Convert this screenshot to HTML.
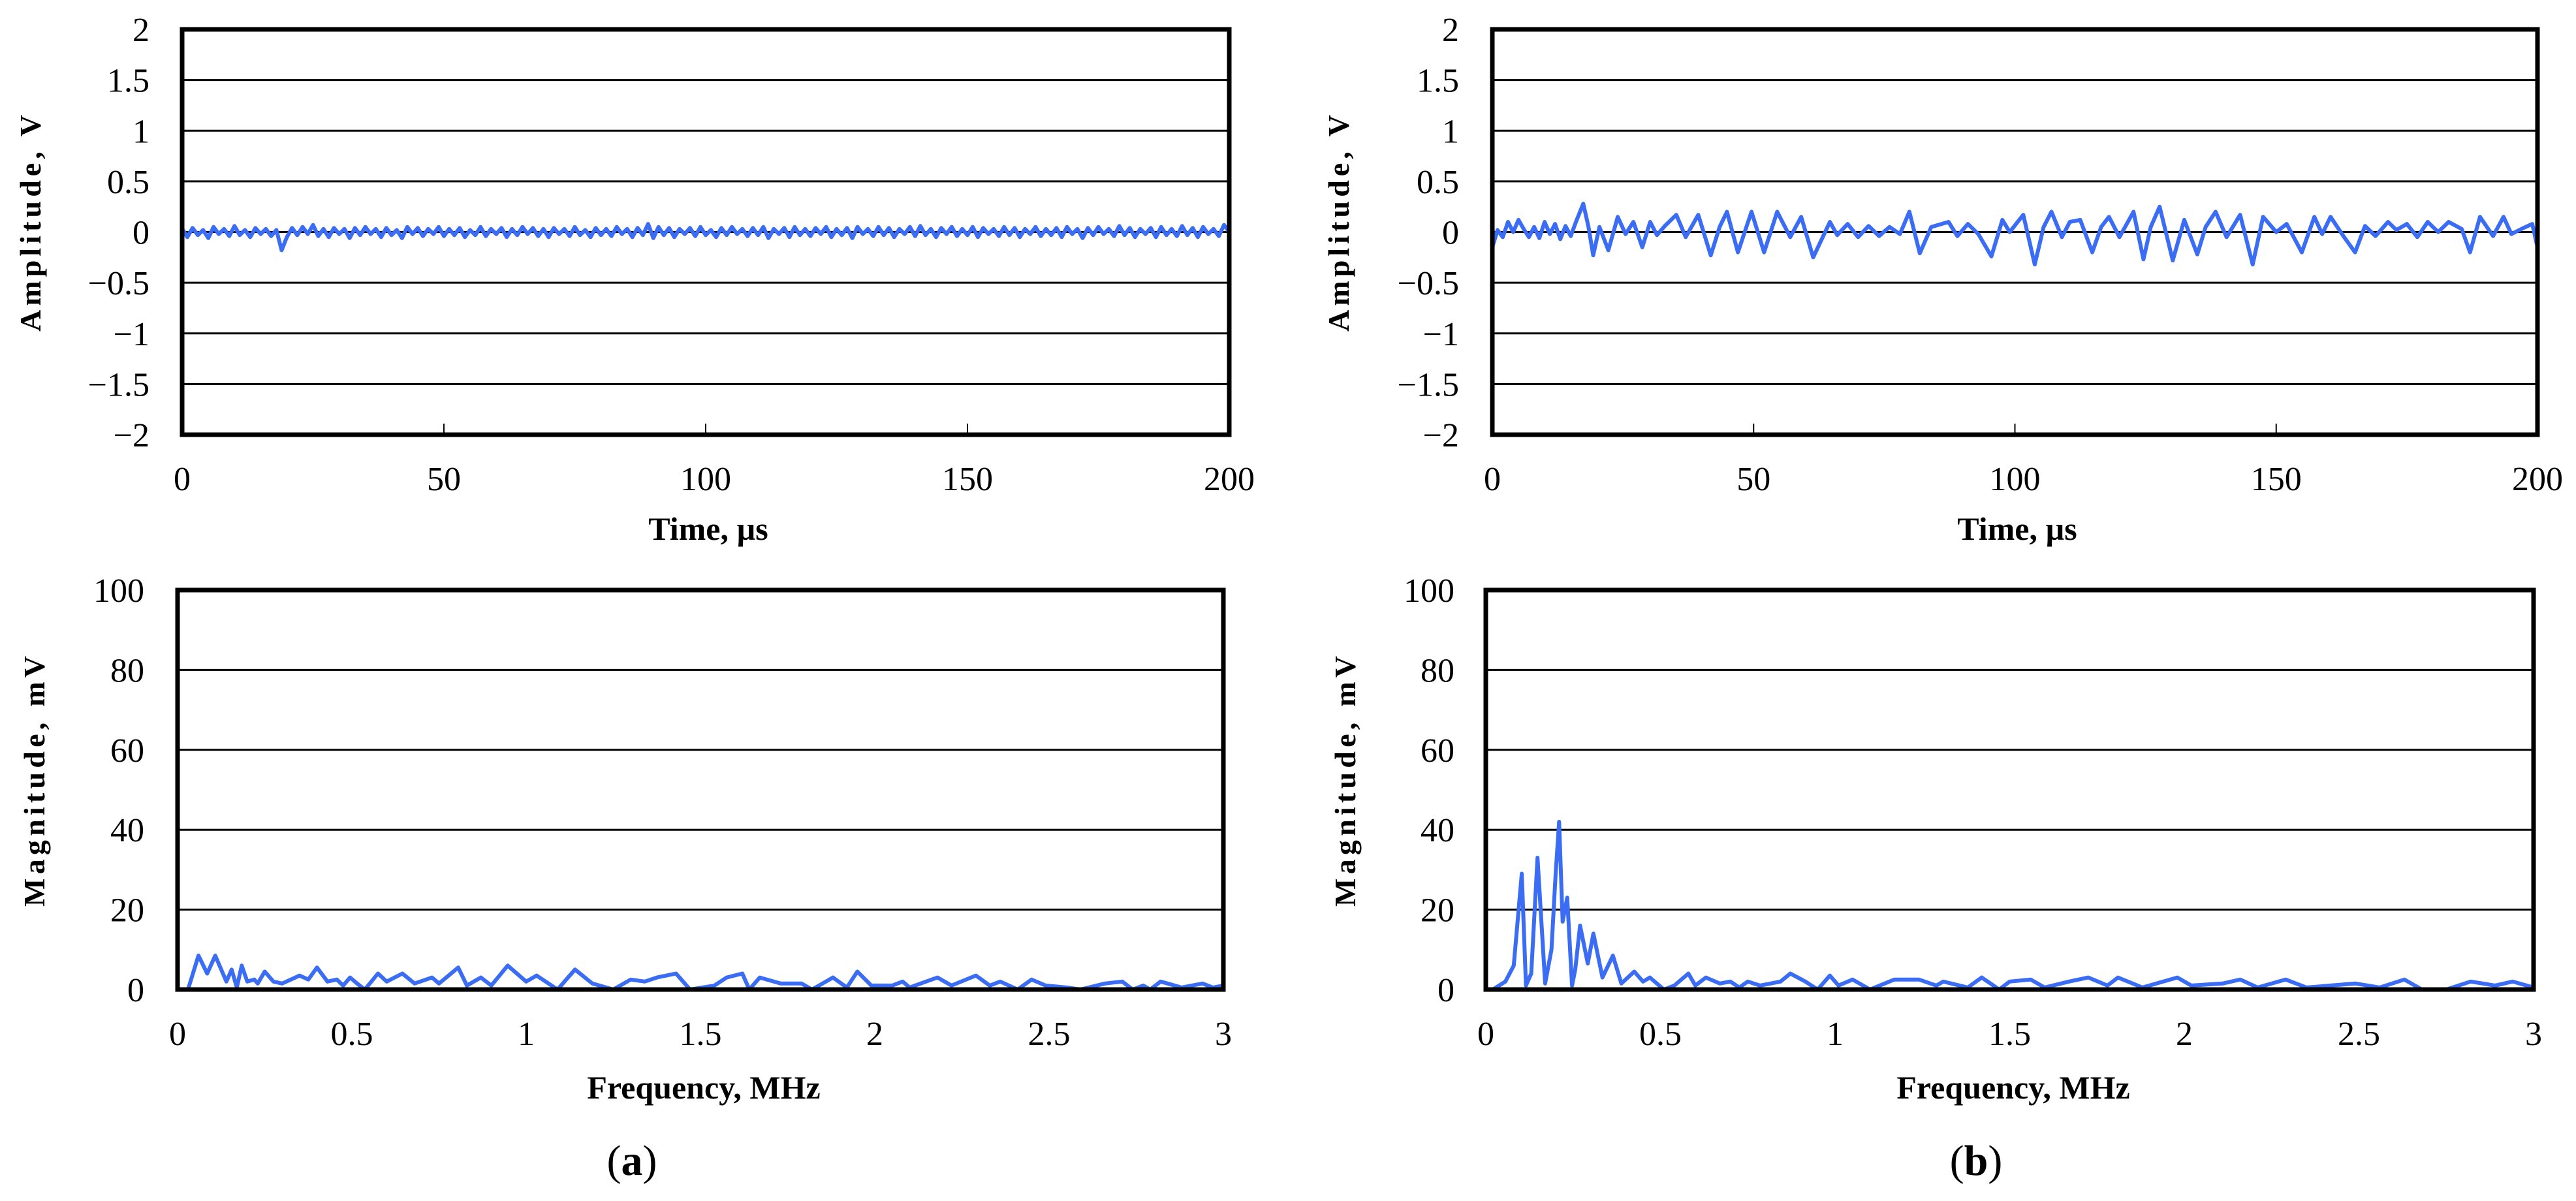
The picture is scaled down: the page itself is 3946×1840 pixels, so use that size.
<!DOCTYPE html>
<html><head><meta charset="utf-8"><style>
html,body{margin:0;padding:0;background:#fff;}
svg{display:block;}
text{font-family:"Liberation Serif",serif;fill:#000;}
</style></head><body>
<svg id="fig" width="3946" height="1840" viewBox="0 0 3946 1840" xmlns="http://www.w3.org/2000/svg"></svg>
<script>
// ---- data ----
const timeTicks = [0, 50, 100, 150, 200];
const ampTicks = [-2, -1.5, -1, -0.5, 0, 0.5, 1, 1.5, 2];
const ampTickLabels = ["\u22122", "\u22121.5", "\u22121", "\u22120.5", "0", "0.5", "1", "1.5", "2"];
const freqTicks = [0, 0.5, 1, 1.5, 2, 2.5, 3];
const magTicks = [0, 20, 40, 60, 80, 100];

// panel (a) time signal, uniform 1 µs steps from 0 to 200
const ampA = [0.03,-0.05,0.04,-0.03,0.02,-0.06,0.05,-0.02,0.03,-0.04,0.06,-0.03,0.02,-0.05,0.04,-0.02,0.03,-0.04,0.02,-0.18,-0.05,0.04,-0.03,0.05,-0.02,0.07,-0.04,0.03,-0.05,0.04,-0.02,0.03,-0.06,0.04,-0.03,0.05,-0.02,0.03,-0.05,0.04,-0.03,0.02,-0.06,0.05,-0.02,0.04,-0.04,0.03,-0.02,0.05,-0.04,0.03,-0.03,0.04,-0.05,0.02,-0.03,0.05,-0.04,0.03,-0.02,0.04,-0.05,0.03,-0.03,0.05,-0.02,0.04,-0.04,0.03,-0.05,0.04,-0.02,0.03,-0.04,0.05,-0.03,0.02,-0.05,0.04,-0.03,0.03,-0.04,0.05,-0.02,0.03,-0.05,0.04,-0.03,0.08,-0.06,0.05,-0.03,0.04,-0.05,0.03,-0.02,0.04,-0.04,0.05,-0.03,0.02,-0.05,0.04,-0.03,0.05,-0.02,0.03,-0.04,0.04,-0.03,0.05,-0.06,0.03,-0.02,0.04,-0.05,0.05,-0.03,0.03,-0.04,0.04,-0.02,0.05,-0.05,0.03,-0.03,0.04,-0.06,0.05,-0.02,0.03,-0.04,0.05,-0.03,0.04,-0.05,0.03,-0.02,0.05,-0.04,0.06,-0.03,0.03,-0.05,0.04,-0.02,0.05,-0.04,0.03,-0.03,0.05,-0.05,0.04,-0.02,0.03,-0.04,0.05,-0.03,0.04,-0.05,0.03,-0.02,0.05,-0.04,0.03,-0.03,0.04,-0.05,0.05,-0.02,0.03,-0.06,0.04,-0.03,0.05,-0.02,0.03,-0.04,0.06,-0.03,0.04,-0.05,0.03,-0.02,0.04,-0.05,0.05,-0.03,0.03,-0.04,0.06,-0.03,0.04,-0.05,0.05,-0.02,0.03,-0.04,0.07,0.0];

// panel (b) time signal keypoints
const timeB = [0,1,2,3,4,5,6,7,8,9,10,11,12,13,14,15,16,17.4,18.4,19.3,20.5,22.2,24,25.5,27,28.7,30.2,31.5,33,35.2,37,39.4,41.8,43.5,44.9,47,49.6,52,54.5,57,59.1,61.4,64.6,66,68,70,72,74,76,78,79.8,81.8,84,87.3,89,91,93,95.5,97.6,99,101.6,103.8,105.5,107,109,110.5,112.5,114.8,116.5,118,120,122.7,124.6,126,127.7,130.2,132.4,134.9,136.5,138.4,140.5,143.1,145.5,147.5,150,152,154.9,157.3,158.8,160.4,163,165.1,167,169,171.4,173,175,177,179,181,183,185.5,187.1,189,191.5,193.5,195,197.3,199,200];
const ampB = [-0.15,0.02,-0.05,0.1,0.0,0.12,0.03,-0.05,0.05,-0.06,0.1,-0.02,0.08,-0.07,0.06,-0.04,0.1,0.28,0.05,-0.23,0.05,-0.18,0.15,-0.02,0.1,-0.15,0.1,-0.03,0.06,0.17,-0.05,0.17,-0.23,0.05,0.2,-0.2,0.2,-0.2,0.2,-0.05,0.15,-0.25,0.1,-0.03,0.08,-0.05,0.06,-0.04,0.05,-0.02,0.2,-0.21,0.05,0.1,-0.04,0.08,-0.02,-0.24,0.12,0.0,0.17,-0.32,0.05,0.2,-0.05,0.1,0.12,-0.2,0.05,0.15,-0.05,0.2,-0.27,0.05,0.25,-0.28,0.12,-0.22,0.05,0.2,-0.05,0.17,-0.32,0.15,0.0,0.08,-0.2,0.15,-0.02,0.15,-0.05,-0.2,0.06,-0.04,0.1,0.02,0.08,-0.05,0.1,0.0,0.1,0.03,-0.2,0.15,-0.04,0.15,-0.02,0.04,0.08,-0.15,-0.12];

// panel (a) spectrum keypoints (MHz, mV)
const freqA = [0,0.03,0.06,0.085,0.108,0.14,0.155,0.17,0.184,0.2,0.22,0.23,0.25,0.275,0.3,0.35,0.375,0.4,0.43,0.457,0.475,0.495,0.515,0.537,0.575,0.6,0.645,0.68,0.73,0.75,0.805,0.83,0.87,0.9,0.947,1.0,1.03,1.09,1.14,1.19,1.25,1.3,1.34,1.375,1.43,1.47,1.54,1.575,1.62,1.64,1.67,1.73,1.79,1.82,1.88,1.92,1.95,1.99,2.05,2.08,2.1,2.18,2.22,2.29,2.33,2.36,2.41,2.45,2.49,2.55,2.59,2.66,2.71,2.74,2.77,2.79,2.82,2.88,2.94,2.97,3.0];
const magA = [0,0,8.5,4,8.5,2,5,0.5,6,2,2.5,1.5,4.5,2,1.5,3.5,2.5,5.5,2,2.5,1,3,1.5,0,4,2,4,1.5,3,1.5,5.5,1,3,1,6,2,3.5,0,5,1.5,0,2.5,2,3,4,0,1,3,4,0,3,1.5,1.5,0,3,0.5,4.5,1,1,2,0.5,3,1,3.5,1,2,0,2.5,1,0.5,0,1.5,2,0,1,0,2,0.5,1.5,0.5,1];

// panel (b) spectrum keypoints (MHz, mV)
const freqB = [0,0.02,0.056,0.08,0.103,0.115,0.13,0.148,0.17,0.188,0.2,0.21,0.22,0.233,0.247,0.256,0.27,0.292,0.308,0.334,0.364,0.388,0.425,0.45,0.47,0.51,0.54,0.58,0.6,0.63,0.67,0.7,0.726,0.75,0.785,0.844,0.872,0.915,0.95,0.985,1.01,1.05,1.1,1.17,1.24,1.29,1.31,1.38,1.42,1.47,1.5,1.56,1.6,1.67,1.725,1.78,1.81,1.88,1.98,2.02,2.11,2.16,2.21,2.29,2.35,2.49,2.56,2.63,2.68,2.75,2.82,2.89,2.94,3.0];
const magB = [0,0,2,6,29,1,4,33,1.5,10,29,42,17,23,1,5,16,6.5,14,3,8.5,1.5,4.5,2,3,0,1,4,1,3,1.5,2,0.5,2,1,2,4,2,0,3.5,1,2.5,0,2.5,2.5,1,2,0.5,3,0,2,2.5,0.5,2,3,1,3,0.5,3,1,1.5,2.5,0.5,2.5,0.5,1.5,0.5,2.5,0,0,2,1,2,0.5];

// ---- drawing ----
const NS = "http://www.w3.org/2000/svg";
const svg = document.getElementById('fig');
const BLUE = "#3a6cf4";
function mk(tag, attrs, parent) {
  const e = document.createElementNS(NS, tag);
  for (const k in attrs) e.setAttribute(k, attrs[k]);
  (parent || svg).appendChild(e);
  return e;
}
function scale(d0, d1, r0, r1) { return v => r0 + (v - d0) / (d1 - d0) * (r1 - r0); }

function panel(cfg) {
  const g = mk('g', {});
  
  
  const sx = scale(cfg.xd[0], cfg.xd[1], cfg.x0, cfg.x1);
  const sy = scale(cfg.yd[0], cfg.yd[1], cfg.y1, cfg.y0);
  cfg.yticks.forEach((t, i) => {
    const y = sy(t);
    if (i > 0 && i < cfg.yticks.length - 1) {
      const l = mk('line', {x1: cfg.x0, x2: cfg.x1, y1: y, y2: y, stroke: '#000', 'stroke-width': 3}, g);
      
      
    }
    const tx = mk('text', {x: cfg.ylabX, y: y + 18, 'text-anchor': 'end', 'font-size': 52}, g);
    tx.textContent = cfg.ylabels ? cfg.ylabels[i] : String(t);
    
    
  });
  cfg.xticks.forEach((t, i) => {
    const x = sx(t);
    if (cfg.tickMarks && i > 0 && i < cfg.xticks.length - 1) {
      const tk = mk('line', {x1: x, x2: x, y1: cfg.y1, y2: cfg.y1 - 17, stroke: '#000', 'stroke-width': 2}, g);
      
      
    }
    const tx = mk('text', {x: x, y: cfg.xlabY, 'text-anchor': 'middle', 'font-size': 52}, g);
    tx.textContent = String(t);
    
    
  });
  let d = '';
  for (let i = 0; i < cfg.ys.length; i++) {
    const xv = cfg.xs ? cfg.xs[i] : cfg.xd[0] + i * (cfg.xd[1] - cfg.xd[0]) / (cfg.ys.length - 1);
    d += (i ? 'L' : 'M') + sx(xv).toFixed(1) + ',' + sy(cfg.ys[i]).toFixed(1);
  }
  const p = mk('path', {d: d, fill: 'none', stroke: BLUE, 'stroke-width': cfg.sw, 'stroke-linejoin': 'round'}, g);
  
  
  const fr = mk('rect', {x: cfg.x0, y: cfg.y0, width: cfg.x1 - cfg.x0, height: cfg.y1 - cfg.y0, fill: 'none', stroke: '#000', 'stroke-width': 7}, g);
  
  
  const yt = mk('text', {x: 0, y: 0, transform: `translate(${cfg.ytX},${cfg.ytY}) rotate(-90)`, 'text-anchor': 'middle', 'font-size': 46, 'font-weight': 'bold', textLength: cfg.ytLen, lengthAdjust: 'spacing'}, g);
  yt.textContent = cfg.ytitle;
  
  
  const xt = mk('text', {x: cfg.xtX, y: cfg.xtY, 'text-anchor': 'middle', 'font-size': 50, 'font-weight': 'bold'}, g);
  xt.textContent = cfg.xtitle;
  
  
}

panel({name: 'time-chart-a', seriesName: 'time-signal-a', x0: 279, x1: 1883, y0: 45, y1: 666, xd: [0, 200], yd: [-2, 2],
  xticks: timeTicks, yticks: ampTicks, ylabels: ampTickLabels, ylabX: 229, xlabY: 751, tickMarks: true,
  ys: ampA, sw: 6, ytitle: 'Amplitude, V', ytX: 62, ytY: 342, ytLen: 332, xtitle: 'Time, \u00b5s', xtX: 1085, xtY: 827});
panel({name: 'time-chart-b', seriesName: 'time-signal-b', x0: 2286, x1: 3887, y0: 45, y1: 666, xd: [0, 200], yd: [-2, 2],
  xticks: timeTicks, yticks: ampTicks, ylabels: ampTickLabels, ylabX: 2235, xlabY: 751, tickMarks: true,
  xs: timeB, ys: ampB, sw: 6, ytitle: 'Amplitude, V', ytX: 2066, ytY: 342, ytLen: 332, xtitle: 'Time, \u00b5s', xtX: 3090, xtY: 827});
panel({name: 'spectrum-chart-a', seriesName: 'spectrum-a', x0: 272, x1: 1874, y0: 904, y1: 1516, xd: [0, 3], yd: [0, 100],
  xticks: freqTicks, yticks: magTicks, ylabX: 221, xlabY: 1601, tickMarks: false,
  xs: freqA, ys: magA, sw: 6, ytitle: 'Magnitude, mV', ytX: 68, ytY: 1197, ytLen: 384, xtitle: 'Frequency, MHz', xtX: 1078, xtY: 1683});
panel({name: 'spectrum-chart-b', seriesName: 'spectrum-b', x0: 2276, x1: 3881, y0: 904, y1: 1516, xd: [0, 3], yd: [0, 100],
  xticks: freqTicks, yticks: magTicks, ylabX: 2228, xlabY: 1601, tickMarks: false,
  xs: freqB, ys: magB, sw: 6, ytitle: 'Magnitude, mV', ytX: 2076, ytY: 1197, ytLen: 384, xtitle: 'Frequency, MHz', xtX: 3084, xtY: 1683});

[['(', 'a', ')', 968, 'panel-label-a'], ['(', 'b', ')', 3027, 'panel-label-b']].forEach(c => {
  const t = mk('text', {x: c[3], y: 1800, 'text-anchor': 'middle', 'font-size': 66});
  
  
  const s1 = mk('tspan', {}, t); s1.textContent = c[0];
  const s2 = mk('tspan', {'font-weight': 'bold'}, t); s2.textContent = c[1];
  const s3 = mk('tspan', {}, t); s3.textContent = c[2];
});
</script>
</body></html>
